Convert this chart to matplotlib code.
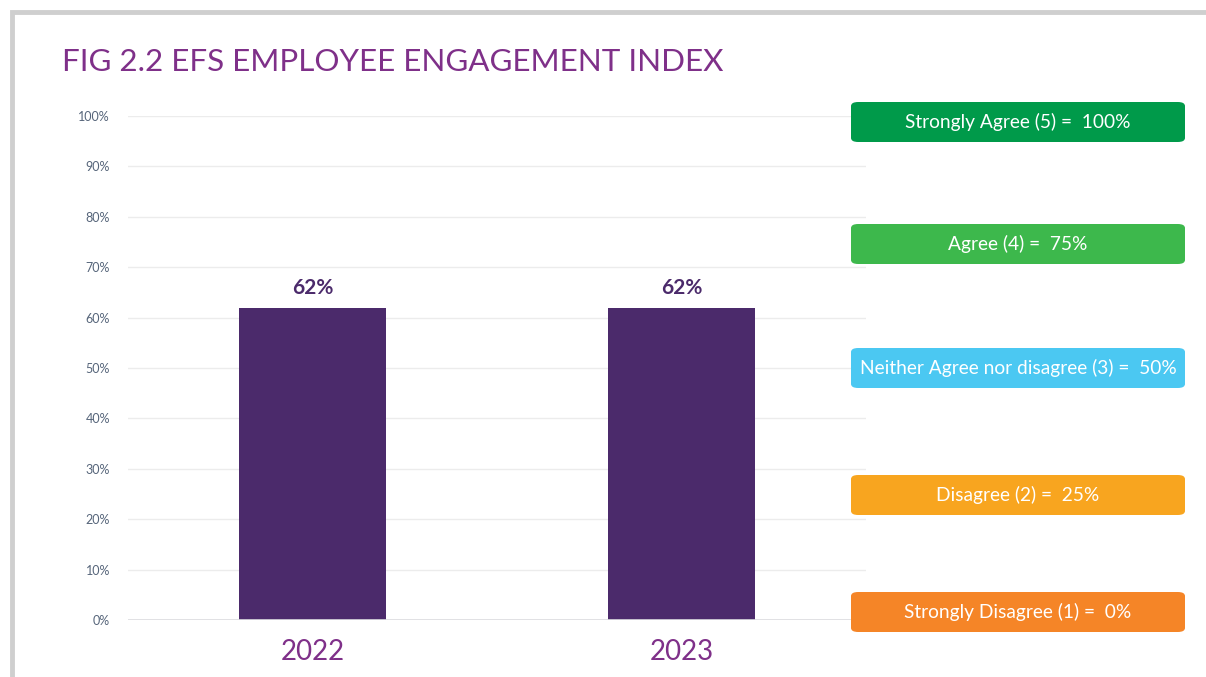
import matplotlib
matplotlib.use('Agg')
import matplotlib.pyplot as plt
from matplotlib.patches import FancyBboxPatch, Rectangle

plt.rcParams['font.family'] = ['Lato', 'DejaVu Sans']

# engagement index by year
years = ['2022', '2023']
index_pct = [62, 62]

# scale key shown at the right
scale_labels = ['Strongly Agree (5) =  100%', 'Agree (4) =  75%',
                'Neither Agree nor disagree (3) =  50%',
                'Disagree (2) =  25%', 'Strongly Disagree (1) =  0%']
scale_colors = ['#009a4a', '#3db84c', '#4bc8f2', '#f8a51f', '#f58527']
key_centers_px = [122, 244, 368, 495, 612]

W, H = 1206, 677
fig = plt.figure(figsize=(W / 100, H / 100), dpi=100)

# grey frame round the figure
fig.patches.append(Rectangle((12 / W, -0.1), 1.1, (H - 12) / H + 0.1,
                             transform=fig.transFigure, fill=False,
                             edgecolor='#cfcfcf', linewidth=3.5))

ax = fig.add_axes([128 / W, (H - 620) / H, (866 - 128) / W, (620 - 116) / H])
x = range(len(years))
bars = ax.bar(x, index_pct, width=0.4, color='#4b2a6b', zorder=3)
for b, v in zip(bars, index_pct):
    ax.text(b.get_x() + b.get_width() / 2, v + 1.8, f'{v}%', ha='center',
            va='bottom', fontsize=15, fontweight='bold', color='#4b2a6b')

ax.set_xlim(-0.5, 1.5)
ax.set_ylim(0, 100)
ax.set_yticks(range(0, 101, 10))
ax.set_yticklabels([f'{t}%' for t in range(0, 101, 10)])
ax.set_xticks(list(x))
ax.set_xticklabels(years)
ax.tick_params(axis='y', length=0, pad=13, labelsize=9, labelcolor='#56657a')
ax.tick_params(axis='x', length=0, pad=14, labelsize=20, labelcolor='#7f3089')
ax.grid(axis='y', color='#ececec', linewidth=1, zorder=0)
for s in ax.spines.values():
    s.set_visible(False)
ax.axhline(0, color='#dcdce0', linewidth=1.2, zorder=4)

fig.text(62 / W, 1 - 62 / H, 'FIG 2.2 EFS EMPLOYEE ENGAGEMENT INDEX',
         fontsize=22.6, color='#7f3089', va='center', ha='left')

# colour key boxes
bx0, bx1, bh = 851, 1185, 40
for lab, col, cy in zip(scale_labels, scale_colors, key_centers_px):
    y0 = H - cy - bh / 2
    fig.patches.append(FancyBboxPatch((bx0 / W, y0 / H), (bx1 - bx0) / W, bh / H,
                                      boxstyle='round,pad=0,rounding_size=0.006',
                                      transform=fig.transFigure,
                                      facecolor=col, edgecolor='none'))
    fig.text((bx0 + bx1) / 2 / W, 1 - cy / H, lab, ha='center', va='center',
             fontsize=13.8, color='white')

fig.savefig('out.png', dpi=100)
